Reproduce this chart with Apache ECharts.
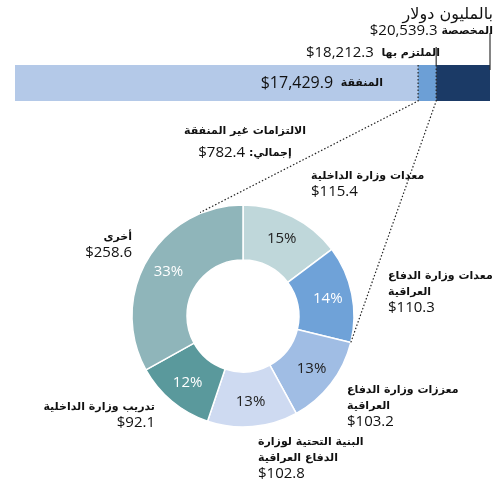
<!DOCTYPE html>
<html>
<head>
<meta charset="utf-8">
<script src="https://cdn.jsdelivr.net/npm/echarts@6/dist/echarts.min.js"></script>
<style>
  html, body { margin: 0; background: #fff; }
  #main { width: 501px; height: 487px; }
</style>
</head>
<body>
<div id="main"></div>
<script>
// values in millions of dollars
const unitTitle = "بالمليون دولار";
const barTitles = ["المنفقة", "الملتزم بها", "المخصصة"];
const barTotals = [17429.9, 18212.3, 20539.3];

const detailTitle = "الالتزامات غير المنفقة";
const detailPrefix = ":إجمالي";
const sliceNames = [
  ["معدات وزارة الداخلية"],
  ["معدات وزارة الدفاع", "العراقية"],
  ["معززات وزارة الدفاع", "العراقية"],
  ["البنية التحتية لوزارة", "الدفاع العراقية"],
  ["تدريب وزارة الداخلية"],
  ["أخرى"]
];
const sliceValues = [115.4, 110.3, 103.2, 102.8, 92.1, 258.6];

const barColors = ["#b4c9e8", "#6c9fd6", "#1b3a66"];
const sliceColors = ["#bfd7da", "#6fa2d8", "#a0bde4", "#cedaf1", "#5a999c", "#8fb5ba"];
const pctColors = ["#222", "#fff", "#222", "#222", "#fff", "#fff"];
// [x, y of first line, align]
const labelSpots = [
  [311, 168, "left"],
  [388, 268, "left"],
  [347, 382, "left"],
  [258, 434, "left"],
  [155, 399, "right"],
  [132, 229, "right"]
];

const FONT = "'Open Sans', 'DejaVu Sans', sans-serif";
const AR_FONT = "'DejaVu Sans', 'Open Sans', sans-serif";
const money = v => "$" + v.toLocaleString("en-US", { minimumFractionDigits: 1, maximumFractionDigits: 1 });

const segs = [barTotals[0], barTotals[1] - barTotals[0], barTotals[2] - barTotals[1]];
const sliceTotal = sliceValues.reduce((s, v) => s + v, 0);

const grid = { left: 15, width: 475, top: 65, height: 36 };
const pieCenter = [243, 316];
const pieRadius = [56, 111];

const richStyles = {
  n: { fontFamily: FONT, fontSize: 15, fill: "#111", lineHeight: 16 },
  a: { fontFamily: AR_FONT, fontSize: 11, fontWeight: "bold", fill: "#111", lineHeight: 16 }
};

const chart = echarts.init(document.getElementById("main"));
chart.setOption({
  animation: false,
  grid: grid,
  xAxis: { type: "value", min: 0, max: barTotals[2], show: false },
  yAxis: { type: "category", data: [""], show: false },
  series: segs.map((v, i) => ({
    type: "bar",
    stack: "all",
    data: [v],
    barWidth: "100%",
    silent: true,
    itemStyle: { color: barColors[i] }
  })).concat([{
    type: "pie",
    center: pieCenter,
    radius: pieRadius,
    startAngle: 90,
    clockwise: true,
    silent: true,
    avoidLabelOverlap: false,
    itemStyle: { borderColor: "#fff", borderWidth: 1.5 },
    labelLine: { show: false },
    data: sliceValues.map((v, i) => ({
      value: v,
      itemStyle: { color: sliceColors[i] },
      label: {
        show: true,
        position: "inside",
        formatter: p => Math.round(p.value / sliceTotal * 100) + "%",
        fontFamily: FONT,
        fontSize: 15,
        color: pctColors[i]
      }
    }))
  }])
});

// annotations positioned from the bar scale and the donut geometry
const xOf = v => chart.convertToPixel({ xAxisIndex: 0 }, v);
const barTop = grid.top, barBottom = grid.top + grid.height;
const xSpent = xOf(barTotals[0]), xCommitted = xOf(barTotals[1]), xAllocated = xOf(barTotals[2]);

const polar = (deg, r) => {
  const a = deg * Math.PI / 180;
  return [pieCenter[0] + r * Math.sin(a), pieCenter[1] - r * Math.cos(a)];
};
const boundaryDeg = (sliceValues[0] + sliceValues[1]) / sliceTotal * 360;

const graphic = [];
const dotted = { stroke: "#222", lineWidth: 1.2, lineDash: [1.5, 2], fill: null };
graphic.push({ type: "polyline", shape: { points: [[xSpent, barTop], [xSpent, barBottom], polar(337.5, pieRadius[1] + 1)] }, style: dotted, z: 10 });
graphic.push({ type: "polyline", shape: { points: [[xCommitted, barTop], [xCommitted, barBottom], polar(boundaryDeg, pieRadius[1])] }, style: dotted, z: 10 });
graphic.push({ type: "line", shape: { x1: xCommitted, y1: 47, x2: xCommitted, y2: barTop }, style: { stroke: "#333", lineWidth: 1.2 }, z: 10 });
graphic.push({ type: "line", shape: { x1: xAllocated, y1: 33, x2: xAllocated, y2: barTop + 5 }, style: { stroke: "#333", lineWidth: 1.2 }, z: 10 });

const txt = (x, y, text, align, extra) => ({
  type: "text",
  x: x, y: y, z: 20,
  style: Object.assign({
    text: text,
    rich: richStyles,
    align: align,
    verticalAlign: "middle",
    font: "bold 11px " + AR_FONT,
    fill: "#111",
    lineHeight: 16
  }, extra || {})
});

graphic.push(txt(493, 15, unitTitle, "right", { font: "16px " + AR_FONT }));
graphic.push(txt(493, 31, "{n|" + money(barTotals[2]) + "} {a|" + barTitles[2] + "}", "right"));
graphic.push(txt(440, 53, "{n|" + money(barTotals[1]) + "}  {a|" + barTitles[1] + "}", "right"));
graphic.push(txt(383, 83, "{n|" + money(barTotals[0]) + "}  {a|" + barTitles[0] + "}", "right",
  { rich: { n: { fontFamily: FONT, fontSize: 16, fill: "#111" }, a: richStyles.a } }));

graphic.push(txt(245, 131, detailTitle, "center"));
graphic.push(txt(245, 153, "{n|" + money(sliceTotal) + "} {a|" + detailPrefix + "}", "center"));

sliceNames.forEach((lines, i) => {
  const spot = labelSpots[i];
  const text = lines.map(l => "{a|" + l + "}").join("\n") + "\n{n|" + money(sliceValues[i]) + "}";
  graphic.push(txt(spot[0], spot[1], text, spot[2], { verticalAlign: "top" }));
});

chart.setOption({ graphic: graphic });
</script>
</body>
</html>
